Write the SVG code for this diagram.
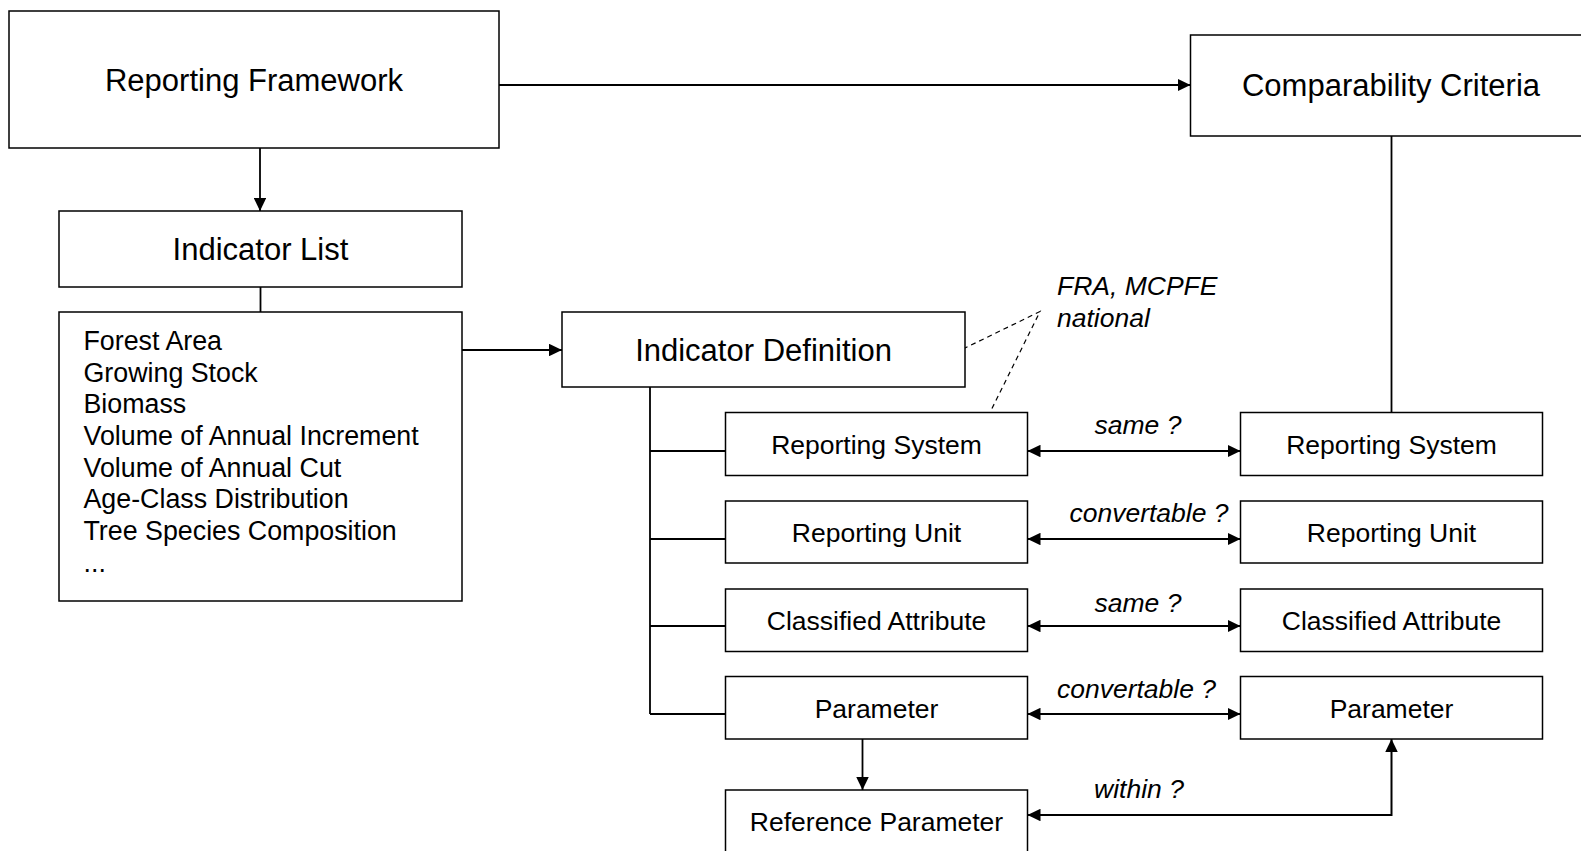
<svg xmlns="http://www.w3.org/2000/svg" width="1581" height="851" viewBox="0 0 1581 851">
<style>
.box{fill:#fff;stroke:#000;stroke-width:1.5}
.big{font-family:"Liberation Sans",Arial,sans-serif;font-size:31px;fill:#000;text-anchor:middle}
.lbl{font-family:"Liberation Sans",Arial,sans-serif;font-size:26.5px;fill:#000;text-anchor:middle}
.item{font-family:"Liberation Sans",Arial,sans-serif;font-size:26.8px;fill:#000}
.ann{font-family:"Liberation Sans",Arial,sans-serif;font-size:26.5px;font-style:italic;fill:#000}
.annc{font-family:"Liberation Sans",Arial,sans-serif;font-size:26.5px;font-style:italic;fill:#000;text-anchor:middle}
.ln{fill:none;stroke:#000;stroke-width:1.8}
.dbl{fill:none;stroke:#000;stroke-width:2}
.dash{fill:none;stroke:#000;stroke-width:1.2;stroke-dasharray:5 4}
</style>
<defs>
<marker id="arr" viewBox="0 0 13 12.5" refX="13" refY="6.25" markerWidth="13" markerHeight="12.5" markerUnits="userSpaceOnUse" orient="auto-start-reverse">
<path d="M0,0 L13,6.25 L0,12.5 Z" fill="#000"/>
</marker>
</defs>
<rect width="1581" height="851" fill="#fff"/>
<g id="connectors">
<line class="ln" x1="499" y1="85" x2="1190.5" y2="85" marker-end="url(#arr)"/>
<line class="ln" x1="260" y1="148" x2="260" y2="211" marker-end="url(#arr)"/>
<line class="ln" x1="260.5" y1="287" x2="260.5" y2="312"/>
<line class="ln" x1="462" y1="350" x2="562" y2="350" marker-end="url(#arr)"/>
<line class="ln" x1="1391.5" y1="136" x2="1391.5" y2="412.5"/>
<path class="ln" d="M650,387 V714 M650,451 H725.5 M650,539 H725.5 M650,626 H725.5 M650,714 H725.5"/>
<line class="dbl" x1="1027.5" y1="451" x2="1240.5" y2="451" marker-start="url(#arr)" marker-end="url(#arr)"/>
<line class="dbl" x1="1027.5" y1="539" x2="1240.5" y2="539" marker-start="url(#arr)" marker-end="url(#arr)"/>
<line class="dbl" x1="1027.5" y1="626" x2="1240.5" y2="626" marker-start="url(#arr)" marker-end="url(#arr)"/>
<line class="dbl" x1="1027.5" y1="714" x2="1240.5" y2="714" marker-start="url(#arr)" marker-end="url(#arr)"/>
<line class="ln" x1="862.5" y1="739" x2="862.5" y2="790" marker-end="url(#arr)"/>
<path class="dbl" d="M1391.5,739 V815 H1027.5" marker-start="url(#arr)" marker-end="url(#arr)"/>
<path class="dash" d="M963,349 L1040,311.5 L990,412.5"/>
<text class="annc" x="1138" y="433.5">same ?</text>
<text class="annc" x="1149" y="521.5">convertable ?</text>
<text class="annc" x="1138" y="611.5">same ?</text>
<text class="annc" x="1136.5" y="698">convertable ?</text>
<text class="annc" x="1139" y="797.5">within ?</text>
</g>
<g id="note">
<text class="ann" x="1057" y="295">FRA, MCPFE</text>
<text class="ann" x="1057" y="326.7">national</text>
</g>
<g id="reporting-framework">
<rect class="box" x="9" y="11" width="490" height="137"/>
<text class="big" x="254" y="91">Reporting Framework</text>
</g>
<g id="comparability-criteria">
<rect class="box" x="1190.5" y="35" width="420" height="101"/>
<text class="big" x="1391" y="96">Comparability Criteria</text>
</g>
<g id="indicator-list">
<rect class="box" x="59" y="211" width="403" height="76"/>
<text class="big" x="260.5" y="260">Indicator List</text>
</g>
<g id="indicator-items">
<rect class="box" x="59" y="312" width="403" height="289"/>
<text class="item" x="83.5" y="350">Forest Area</text>
<text class="item" x="83.5" y="381.7">Growing Stock</text>
<text class="item" x="83.5" y="413.3">Biomass</text>
<text class="item" x="83.5" y="445">Volume of Annual Increment</text>
<text class="item" x="83.5" y="476.6">Volume of Annual Cut</text>
<text class="item" x="83.5" y="508.3">Age-Class Distribution</text>
<text class="item" x="83.5" y="540">Tree Species Composition</text>
<text class="item" x="83.5" y="571.6">...</text>
</g>
<g id="indicator-definition">
<rect class="box" x="562" y="312" width="403" height="75"/>
<text class="big" x="763.5" y="361">Indicator Definition</text>
</g>
<g id="reporting-system-l">
<rect class="box" x="725.5" y="412.5" width="302" height="63"/>
<text class="lbl" x="876.5" y="454">Reporting System</text>
</g>
<g id="reporting-unit-l">
<rect class="box" x="725.5" y="501" width="302" height="62"/>
<text class="lbl" x="876.5" y="542">Reporting Unit</text>
</g>
<g id="classified-attribute-l">
<rect class="box" x="725.5" y="589" width="302" height="62.5"/>
<text class="lbl" x="876.5" y="630">Classified Attribute</text>
</g>
<g id="parameter-l">
<rect class="box" x="725.5" y="676.5" width="302" height="62.5"/>
<text class="lbl" x="876.5" y="718">Parameter</text>
</g>
<g id="reference-parameter">
<rect class="box" x="725.5" y="790" width="302" height="100"/>
<text class="lbl" x="876.5" y="830.5">Reference Parameter</text>
</g>
<g id="reporting-system-r">
<rect class="box" x="1240.5" y="412.5" width="302" height="63"/>
<text class="lbl" x="1391.5" y="454">Reporting System</text>
</g>
<g id="reporting-unit-r">
<rect class="box" x="1240.5" y="501" width="302" height="62"/>
<text class="lbl" x="1391.5" y="542">Reporting Unit</text>
</g>
<g id="classified-attribute-r">
<rect class="box" x="1240.5" y="589" width="302" height="62.5"/>
<text class="lbl" x="1391.5" y="630">Classified Attribute</text>
</g>
<g id="parameter-r">
<rect class="box" x="1240.5" y="676.5" width="302" height="62.5"/>
<text class="lbl" x="1391.5" y="718">Parameter</text>
</g>
</svg>
